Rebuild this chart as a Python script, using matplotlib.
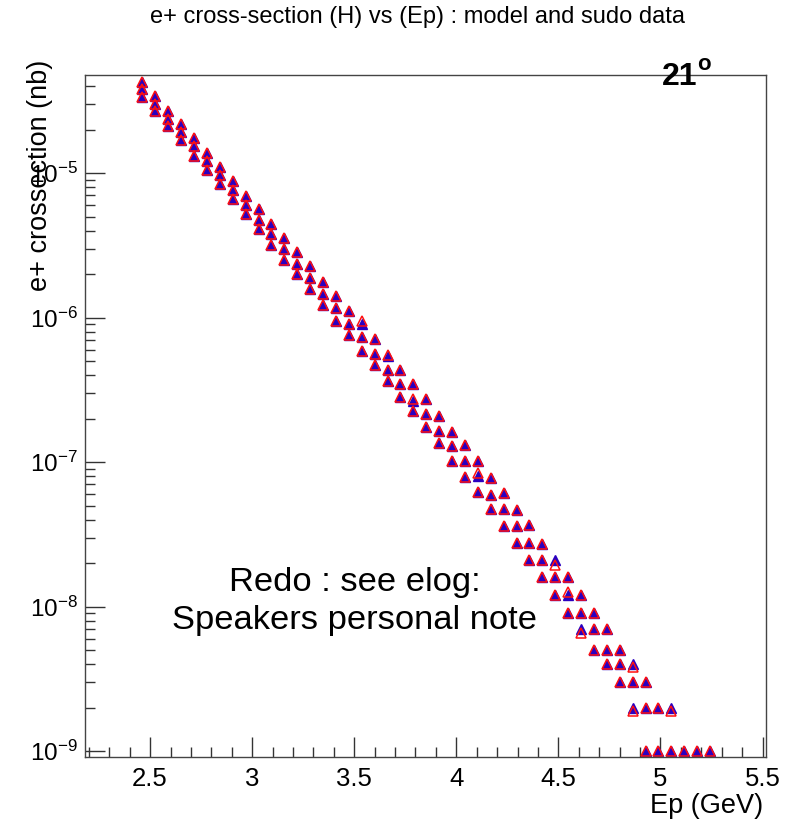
import numpy as np
import matplotlib
matplotlib.use('Agg')
import matplotlib.pyplot as plt
from matplotlib.ticker import MultipleLocator, LogLocator, NullFormatter, FuncFormatter

plt.rcParams['font.family'] = ['Liberation Sans', 'DejaVu Sans']
plt.rcParams['mathtext.fontset'] = 'custom'
plt.rcParams['mathtext.rm'] = 'Liberation Sans'
plt.rcParams['mathtext.bf'] = 'Liberation Sans:bold'
plt.rcParams['axes.unicode_minus'] = False

nan = np.nan

ep = [2.462, 2.525, 2.588, 2.652, 2.715, 2.778, 2.841, 2.904, 2.968, 3.031,
      3.094, 3.157, 3.220, 3.284, 3.347, 3.410, 3.473, 3.536, 3.600, 3.663,
      3.726, 3.789, 3.852, 3.916, 3.979, 4.042, 4.105, 4.168, 4.232, 4.295,
      4.358, 4.421, 4.484, 4.548, 4.611, 4.674, 4.737, 4.800, 4.864, 4.927,
      4.990, 5.053, 5.116, 5.180, 5.243]

# sudo data, three bins per Ep
data_top = [4.25e-5, 3.41e-5, 2.70e-5, 2.18e-5, 1.75e-5, 1.38e-5, 1.11e-5, 8.81e-6, 6.97e-6, 5.66e-6,
            4.41e-6, 3.53e-6, 2.84e-6, 2.26e-6, 1.77e-6, 1.42e-6, 1.11e-6, 9.02e-7, 7.07e-7, 5.38e-7,
            4.32e-7, 3.45e-7, 2.74e-7, 2.10e-7, 1.61e-7, 1.31e-7, 1.01e-7, 7.78e-8, 6.07e-8, 4.65e-8,
            3.64e-8, 2.69e-8, 2.1e-8, 1.6e-8, 1.2e-8, 9e-9, 7e-9, 5e-9, 4e-9, 3e-9,
            2e-9, 2e-9, 1e-9, 1e-9, 1e-9]
data_mid = [3.79e-5, 3.02e-5, 2.38e-5, 1.92e-5, 1.53e-5, 1.22e-5, 9.68e-6, 7.69e-6, 6.01e-6, 4.73e-6,
            3.77e-6, 2.98e-6, 2.36e-6, 1.87e-6, 1.46e-6, 1.17e-6, 8.97e-7, 7.30e-7, 5.56e-7, 4.34e-7,
            3.47e-7, 2.64e-7, 2.15e-7, 1.65e-7, 1.29e-7, 1.01e-7, 8.00e-8, 5.94e-8, 4.71e-8, 3.61e-8,
            2.77e-8, 2.1e-8, 1.6e-8, 1.2e-8, 9e-9, 7e-9, 5e-9, 4e-9, 3e-9, 2e-9,
            1e-9, 1e-9, nan, nan, nan]
data_low = [3.37e-5, 2.67e-5, 2.11e-5, 1.68e-5, 1.31e-5, 1.05e-5, 8.36e-6, 6.59e-6, 5.18e-6, 4.09e-6,
            3.18e-6, 2.49e-6, 1.99e-6, 1.57e-6, 1.23e-6, 9.53e-7, 7.57e-7, 5.89e-7, 4.69e-7, 3.66e-7,
            2.81e-7, 2.24e-7, 1.74e-7, 1.36e-7, 1.02e-7, 7.87e-8, 6.22e-8, 4.75e-8, 3.62e-8, 2.74e-8,
            2.1e-8, 1.6e-8, 1.2e-8, 9e-9, 7e-9, 5e-9, 4e-9, 3e-9, 2e-9, 1e-9,
            nan, nan, nan, nan, nan]

# model points that sit off the data points: (bin, index, value)
model_diff = [('top', 17, 9.4e-7), ('top', 19, 5.55e-7), ('mid', 21, 2.72e-7),
              ('mid', 26, 8.4e-8), ('top', 32, 1.95e-8), ('mid', 33, 1.27e-8),
              ('low', 34, 6.6e-9), ('top', 38, 3.8e-9), ('low', 38, 1.9e-9),
              ('top', 41, 1.9e-9)]

model = {'top': list(data_top), 'mid': list(data_mid), 'low': list(data_low)}
for b, i, v in model_diff:
    model[b][i] = v

fig = plt.figure(figsize=(7.89, 8.19), dpi=100)
ax = fig.add_axes([85/789, 1-757/819, (766-85)/789, (757-75)/819])

for ys in (data_top, data_mid, data_low):
    ax.plot(ep, ys, '^', ms=6.8, color='#2a00c0', mec='#2a00c0', ls='none')
for b in ('top', 'mid', 'low'):
    ax.plot(ep, model[b], '^', ms=6.8, mfc='none', mec='#ff1010', mew=1.1, ls='none')

ax.set_yscale('log')
ax.set_xlim(2.181, 5.517)
ax.set_ylim(9.1e-10, 4.77e-5)

ax.xaxis.set_major_locator(MultipleLocator(0.5))
ax.xaxis.set_minor_locator(MultipleLocator(0.1))
ax.xaxis.set_major_formatter(FuncFormatter(lambda v, p: '%g' % v))
ax.yaxis.set_major_locator(LogLocator(base=10, numticks=20))
ax.yaxis.set_minor_locator(LogLocator(base=10, subs=np.arange(2, 10), numticks=20))
ax.yaxis.set_minor_formatter(NullFormatter())

ax.tick_params(which='both', direction='in', top=False, right=False, color='#333333', width=1)
ax.tick_params(which='major', length=14.4)
ax.tick_params(which='minor', length=7.2)
ax.tick_params(axis='x', labelsize=18.5, pad=7)
ax.tick_params(axis='y', labelsize=17.5, pad=5)
for s in ax.spines.values():
    s.set_color('#444444')
    s.set_linewidth(1)

ax.set_xlabel('Ep (GeV)', fontsize=19.5, loc='right')
ax.xaxis.set_label_coords(0.996, -0.053)
ax.set_ylabel('e+ crossection (nb)', fontsize=19.5, loc='top')
ax.yaxis.set_label_coords(-0.047, 1.022)

fig.text(417/789, 1-17/819, 'e+ cross-section (H) vs (Ep) : model and sudo data',
         ha='center', va='center', fontsize=17)
fig.text(662/789, 1-85/819, '21', fontsize=23, fontweight='bold', ha='left', va='baseline')
fig.text(697/789, 1-70/819, 'o', fontsize=16, fontweight='bold', ha='left', va='baseline')

ax.text(0.396, (757-582)/682, 'Redo : see elog:', transform=ax.transAxes,
        ha='center', va='center', fontsize=24.8)
ax.text(0.396, (757-621)/682, 'Speakers personal note', transform=ax.transAxes,
        ha='center', va='center', fontsize=24.8)

plt.savefig('out.png', dpi=100)
